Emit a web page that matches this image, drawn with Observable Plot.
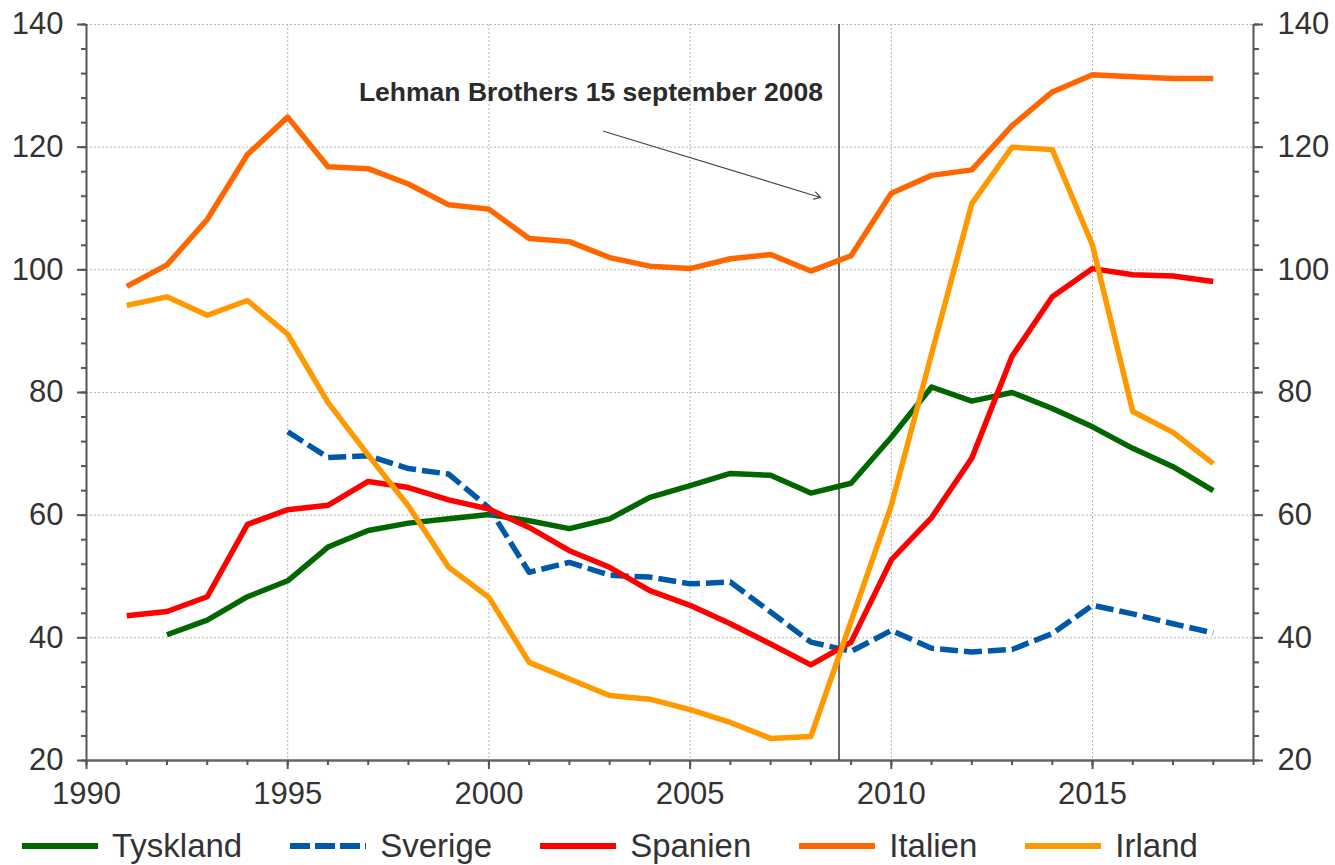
<!DOCTYPE html>
<html>
<head>
<meta charset="utf-8">
<script src="https://cdn.jsdelivr.net/npm/d3@7"></script>
<script src="https://cdn.jsdelivr.net/npm/@observablehq/plot@0.6"></script>
<style>
  body { margin: 0; background: #fff; font-family: "Liberation Sans", Arial, sans-serif; }
  #chart { position: relative; width: 1335px; height: 865px; overflow: hidden; }
  #legend { position: absolute; left: 22px; top: 820px; height: 52px; display: flex; align-items: center; gap: 48px; font-size: 33px; color: #333; }
  .item { display: flex; align-items: center; }
  .item svg { margin-right: 14px; }
</style>
</head>
<body>
<div id="chart"></div>
<script>
// ---- Data ----
const years = d3.range(1991, 2019);
const countries = ["Tyskland", "Sverige", "Spanien", "Italien", "Irland"];
const colors = ["#006600", "#0058A8", "#FF0000", "#FF6600", "#FF9900"];
const dashes = [null, "18,6", null, null, null];

const tyskland = [null, 40.5, 42.9, 46.7, 49.3, 54.8, 57.5, 58.7, 59.4, 60.1, 59.1, 57.8, 59.4, 62.9, 64.8, 66.8, 66.5, 63.6, 65.2, 72.7, 80.9, 78.6, 80.0, 77.4, 74.4, 70.9, 67.9, 64.0];
const sverige  = [null, null, null, null, 73.6, 69.4, 69.7, 67.6, 66.7, 61.2, 50.7, 52.3, 50.2, 49.9, 48.8, 49.1, 44.2, 39.3, 37.8, 41.2, 38.3, 37.7, 38.1, 40.7, 45.3, 43.9, 42.3, 40.8];
const spanien  = [43.6, 44.3, 46.7, 58.5, 60.9, 61.6, 65.5, 64.5, 62.5, 61.0, 58.0, 54.2, 51.5, 47.7, 45.3, 42.3, 39.0, 35.6, 39.3, 52.7, 59.6, 69.3, 85.9, 95.6, 100.2, 99.2, 99.0, 98.1];
const italien  = [97.3, 100.8, 108.2, 118.8, 124.9, 116.8, 116.5, 114.0, 110.6, 109.9, 105.1, 104.6, 102.0, 100.6, 100.2, 101.8, 102.5, 99.8, 102.3, 112.5, 115.4, 116.3, 123.5, 129.0, 131.8, 131.5, 131.2, 131.2];
const irland   = [94.2, 95.6, 92.6, 95.0, 89.5, 78.4, 69.8, 61.5, 51.5, 46.6, 36.0, 33.3, 30.6, 30.0, 28.3, 26.2, 23.6, 23.9, 42.7, 61.6, 86.3, 110.8, 120.0, 119.6, 104.0, 76.9, 73.5, 68.4];
const seriesValues = [tyskland, sverige, spanien, italien, irland];

const xDomain = [1990, 2019];
const yDomain = [20, 140];
const xMajor = [1990, 1995, 2000, 2005, 2010, 2015];
const xMinor = d3.range(1990, 2020);
const yMajor = [20, 40, 60, 80, 100, 120, 140];
const yMinor = d3.range(20, 141, 4);

const lehmanDate = [2008.7];
const annotationText = ["Lehman Brothers 15 september 2008"];
const annotationPos = [{x: 1996.77, y: 128.9}];
const arrowPos = [{x1: 2002.85, y1: 122.6, x2: 2008.24, y2: 111.8}];

// ---- Build tidy table ----
const tables = countries.map((c, k) =>
  years.map((yr, i) => ({country: c, year: yr, value: seriesValues[k][i]}))
       .filter(d => d.value != null)
);

const font = "Liberation Sans, Arial, sans-serif";

const chart = Plot.plot({
  width: 1335,
  height: 820,
  marginLeft: 86,
  marginRight: 82,
  marginTop: 24,
  marginBottom: 60,
  style: {fontFamily: font, fontSize: "31px", color: "#333", background: "white"},
  x: {domain: xDomain, label: null},
  y: {domain: yDomain, label: null},
  marks: [
    Plot.gridY(yMajor, {stroke: "#b5b5b5", strokeOpacity: 1, strokeDasharray: "2,2", strokeWidth: 1}),
    Plot.gridX(xMajor, {stroke: "#b5b5b5", strokeOpacity: 1, strokeDasharray: "2,2", strokeWidth: 1}),
    // axis lines
    Plot.ruleX([xDomain[0], xDomain[1]], {stroke: "#555", strokeWidth: 2}),
    Plot.ruleY([yDomain[0]], {stroke: "#666", strokeWidth: 2.5}),
    // Lehman line
    Plot.ruleX(lehmanDate, {stroke: "#3a3a3a", strokeWidth: 1.5}),
    // series
    ...tables.map((t, k) => Plot.line(t, {
      x: "year", y: "value",
      stroke: colors[k], strokeWidth: 5.5,
      strokeDasharray: dashes[k] ?? undefined,
      strokeLinejoin: "round", strokeLinecap: "butt"
    })),
    // annotation
    Plot.text(annotationPos, {
      x: "x", y: "y", text: () => annotationText[0],
      textAnchor: "start", fontSize: 26.5, fontWeight: "bold", fill: "#2b2b2b", fontFamily: font
    }),
    Plot.arrow(arrowPos, {x1: "x1", y1: "y1", x2: "x2", y2: "y2", stroke: "#444", strokeWidth: 1.2, headLength: 9}),
    // axes
    Plot.axisY(yMajor, {anchor: "left", tickSize: 9, tickPadding: 14, fontSize: 31, label: null, stroke: "#555", strokeWidth: 2}),
    Plot.axisY(yMinor, {anchor: "left", tickSize: 5, tickFormat: () => "", label: null, stroke: "#555", strokeWidth: 2}),
    Plot.axisY(yMajor, {anchor: "right", tickSize: 9, tickPadding: 15, fontSize: 31, label: null, stroke: "#555", strokeWidth: 2}),
    Plot.axisY(yMinor, {anchor: "right", tickSize: 5, tickFormat: () => "", label: null, stroke: "#555", strokeWidth: 2}),
    Plot.axisX(xMajor, {anchor: "bottom", tickSize: 9, tickPadding: 12, fontSize: 31, tickFormat: d => String(d), label: null, stroke: "#555", strokeWidth: 2}),
    Plot.axisX(xMinor, {anchor: "bottom", tickSize: 5, tickFormat: () => "", label: null, stroke: "#555", strokeWidth: 2})
  ]
});

const root = document.getElementById("chart");
root.appendChild(chart);

// ---- Legend ----
const legend = document.createElement("div");
legend.id = "legend";
countries.forEach((c, k) => {
  const item = document.createElement("div");
  item.className = "item";
  const dash = dashes[k] ? `stroke-dasharray="20,5"` : "";
  item.innerHTML = `<svg width="76" height="12"><line x1="0" x2="76" y1="6" y2="6" stroke="${colors[k]}" stroke-width="6" ${dash}/></svg><span>${c}</span>`;
  legend.appendChild(item);
});
root.appendChild(legend);
</script>
</body>
</html>
